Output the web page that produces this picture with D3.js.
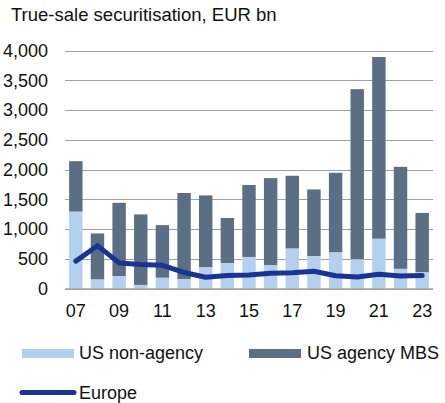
<!DOCTYPE html>
<html><head><meta charset="utf-8">
<script src="https://cdn.jsdelivr.net/npm/d3@7"></script>
<style>body{margin:0;background:#fff}svg{display:block;font-family:"Liberation Sans",Arial,sans-serif}</style>
</head><body><svg id="c" width="445" height="403"></svg>
<script>
const years = ["07","08","09","10","11","12","13","14","15","16","17","18","19","20","21","22","23"];
const usNonAgency = [1290,150,210,60,180,160,355,425,530,395,670,545,605,490,835,330,270];
const usAgencyTotal = [2140,925,1440,1245,1065,1605,1565,1185,1740,1855,1895,1665,1945,3350,3890,2045,1270];
const europe = [460,720,430,405,390,270,190,218,225,255,265,290,215,195,240,212,218];
const yTicks = [0,500,1000,1500,2000,2500,3000,3500,4000];
const xTickLabels = ["07","09","11","13","15","17","19","21","23"];

const svg = d3.select("#c");
const x = d3.scaleBand().domain(years).range([65,433]).paddingInner(0.38).paddingOuter(0.19);
const y = d3.scaleLinear().domain([0,4000]).range([288.5,50.5]);

svg.append("text").attr("x",11).attr("y",21).attr("font-size",18.5).attr("fill","#111")
  .text("True-sale securitisation, EUR bn");

// gridlines
svg.append("g").selectAll("line").data(yTicks).join("line")
  .attr("x1",65).attr("x2",433).attr("y1",d=>Math.round(y(d))+0.5).attr("y2",d=>Math.round(y(d))+0.5)
  .attr("stroke","#a0a0a0").attr("stroke-width",1);

// y labels
svg.append("g").selectAll("text").data(yTicks).join("text")
  .attr("x",48).attr("y",d=>y(d)).attr("dy","0.36em").attr("text-anchor","end")
  .attr("font-size",18).attr("fill","#111").text(d=>d3.format(",")(d));

// bars
const rows = years.map((yr,i)=>({yr, non:usNonAgency[i], tot:usAgencyTotal[i]}));
svg.append("g").selectAll("rect").data(rows).join("rect")
  .attr("x",d=>x(d.yr)).attr("width",x.bandwidth())
  .attr("y",d=>y(d.tot)).attr("height",d=>y(d.non)-y(d.tot)).attr("fill","#5b6f84");
svg.append("g").selectAll("rect").data(rows).join("rect")
  .attr("x",d=>x(d.yr)).attr("width",x.bandwidth())
  .attr("y",d=>y(d.non)).attr("height",d=>y(0)-y(d.non)).attr("fill","#b4d0ef");

// axis line
svg.append("line").attr("x1",65).attr("x2",433).attr("y1",289).attr("y2",289).attr("stroke","#a0a0a0").attr("stroke-width",1.5);

// europe line
const line = d3.line().x((d,i)=>x(years[i])+x.bandwidth()/2).y(d=>y(d));
svg.append("path").datum(europe).attr("d",line).attr("fill","none")
  .attr("stroke","#1a3494").attr("stroke-width",5).attr("stroke-linejoin","round").attr("stroke-linecap","round");

// x labels
svg.append("g").selectAll("text").data(xTickLabels).join("text")
  .attr("x",d=>x(d)+x.bandwidth()/2).attr("y",316.5).attr("text-anchor","middle")
  .attr("font-size",18).attr("fill","#111").text(d=>d);

// legend
const lg = svg.append("g");
lg.append("rect").attr("x",22).attr("y",349).attr("width",52).attr("height",9).attr("fill","#b4d0ef");
lg.append("text").attr("x",79).attr("y",359).attr("font-size",18).attr("fill","#111").text("US non-agency");
lg.append("rect").attr("x",249).attr("y",349).attr("width",52).attr("height",9).attr("fill","#5b6f84");
lg.append("text").attr("x",307).attr("y",359).attr("font-size",18).attr("fill","#111").text("US agency MBS");
lg.append("line").attr("x1",22).attr("x2",74).attr("y1",392.5).attr("y2",392.5)
  .attr("stroke","#1a3494").attr("stroke-width",5).attr("stroke-linecap","round");
lg.append("text").attr("x",79).attr("y",398.5).attr("font-size",18).attr("fill","#111").text("Europe");
</script></body></html>
